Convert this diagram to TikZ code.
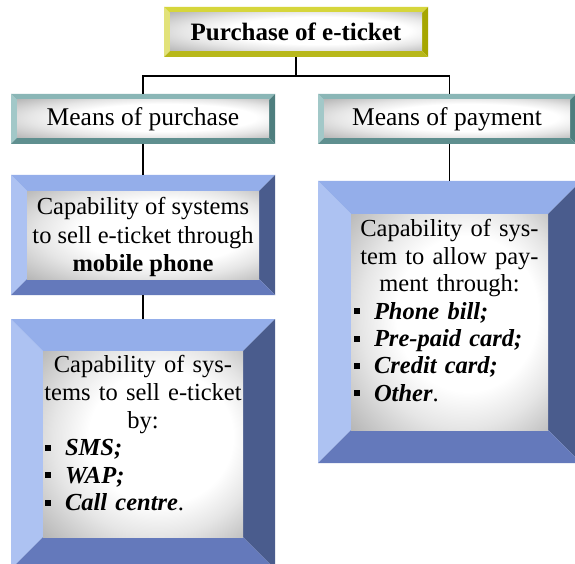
\documentclass[tikz,border=0pt]{standalone}
\usepackage{fontspec}
\setmainfont{Liberation Serif}
\usetikzlibrary{calc}
\definecolor{YT}{HTML}{D6D63C}
\definecolor{YL}{HTML}{E2E27A}
\definecolor{YR}{HTML}{A6A600}
\definecolor{YB}{HTML}{B8B81A}
\definecolor{TT}{HTML}{8AB6B6}
\definecolor{TL}{HTML}{A2C8C8}
\definecolor{TR}{HTML}{4E7E7E}
\definecolor{TB}{HTML}{5F8F8F}
\definecolor{BT}{HTML}{94AEEA}
\definecolor{BL}{HTML}{ADC2F2}
\definecolor{BR}{HTML}{4A5C8D}
\definecolor{BB}{HTML}{6479BB}
\pgfdeclareradialshading{faceshade}{\pgfpoint{7bp}{3bp}}{color(0bp)=(white); color(18bp)=(white); color(26bp)=(black!10); color(38bp)=(black!30); color(50bp)=(black!38)}
\newcommand{\bevelbox}[3]{%
  \fill[#3L] (#1.north west) -- ([xshift=#2,yshift=-#2]#1.north west) -- ([xshift=#2,yshift=#2]#1.south west) -- (#1.south west) -- cycle;
  \fill[#3T] (#1.north west) -- (#1.north east) -- ([xshift=-#2,yshift=-#2]#1.north east) -- ([xshift=#2,yshift=-#2]#1.north west) -- cycle;
  \fill[#3R] (#1.north east) -- (#1.south east) -- ([xshift=-#2,yshift=#2]#1.south east) -- ([xshift=-#2,yshift=-#2]#1.north east) -- cycle;
  \fill[#3B] (#1.south west) -- (#1.south east) -- ([xshift=-#2,yshift=#2]#1.south east) -- ([xshift=#2,yshift=#2]#1.south west) -- cycle;
  \shade[shading=faceshade] ([xshift=#2,yshift=-#2]#1.north west) rectangle ([xshift=-#2,yshift=#2]#1.south east);
}
\newcommand{\bul}{\makebox[23pt][l]{\hspace{3pt}\rule[5pt]{6pt}{6pt}}}
\tikzset{
  frame/.style={rectangle, inner sep=0pt, outer sep=0pt},
  conn/.style={line width=1.6pt, black},
  big/.style={font=\fontsize{25.5}{29}\selectfont},
  body/.style={font=\fontsize{24.5}{28}\selectfont, inner sep=0pt}
}
\begin{document}
\begin{tikzpicture}[x=1pt,y=-1pt]
\useasboundingbox (0,0) rectangle (575,564);
\clip (0,0) rectangle (575,564);
\fill[white] (0,0) rectangle (575,564);
% frames
\node[frame, minimum width=264pt, minimum height=50pt] (top) at (296,32) {};
\node[frame, minimum width=264pt, minimum height=50pt] (mp) at (143,119) {};
\node[frame, minimum width=258pt, minimum height=50pt] (mpay) at (447,119) {};
\node[frame, minimum width=264pt, minimum height=120pt] (b2) at (143,235) {};
\node[frame, minimum width=264pt, minimum height=250pt] (b3) at (143,444) {};
\node[frame, minimum width=263pt, minimum height=282pt] (b4) at (449.5,322) {};
\bevelbox{top}{6pt}{Y}
\bevelbox{mp}{6pt}{T}
\bevelbox{mpay}{6pt}{T}
\bevelbox{b2}{16pt}{B}
\bevelbox{b3}{32pt}{B}
\bevelbox{b4}{33pt}{B}
% connectors
\coordinate (bar) at (296,76);
\draw[conn] (top.south) -- (bar);
\draw[conn] (mp.north) |- (bar) -| (b4.north |- mpay.north);
\draw[conn] (mp.south) -- (b2.north);
\draw[conn] (b2.south) -- (b3.north);
\draw[conn] (b4.north |- mpay.south) -- (b4.north);
% texts
\node[big, font=\fontsize{25}{29}\selectfont] (ttop) at (top) {\bfseries Purchase of e-ticket};
\node[big] (tmp) at (mp) {Means of purchase};
\node[big] (tmpay) at (mpay) {Means of payment};
\node[body, align=center, font=\fontsize{24.5}{28.5}\selectfont] (t2) at ([yshift=-2pt]b2.center) {Capability of systems\\to sell e-ticket through\\\textbf{mobile phone}};
\node[body, anchor=north, text width=202pt, font=\fontsize{24.5}{27.6}\selectfont] (t3) at (143,355.5) {\centering Capability of sys-\\tems to sell e-ticket\\by:\par\raggedright\bul\textbf{\textit{SMS;}}\\\bul\textbf{\textit{WAP;}}\\\bul\textbf{\textit{Call centre}}.\par};
\node[body, anchor=north, text width=197pt, font=\fontsize{24.5}{27.4}\selectfont] (t4) at (449.5,219.5) {\centering Capability of sys-\\tem to allow pay-\\ment through:\par\raggedright\bul\textbf{\textit{Phone bill;}}\\\bul\textbf{\textit{Pre-paid card;}}\\\bul\textbf{\textit{Credit card;}}\\\bul\textbf{\textit{Other}}.\par};
\end{tikzpicture}
\end{document}
